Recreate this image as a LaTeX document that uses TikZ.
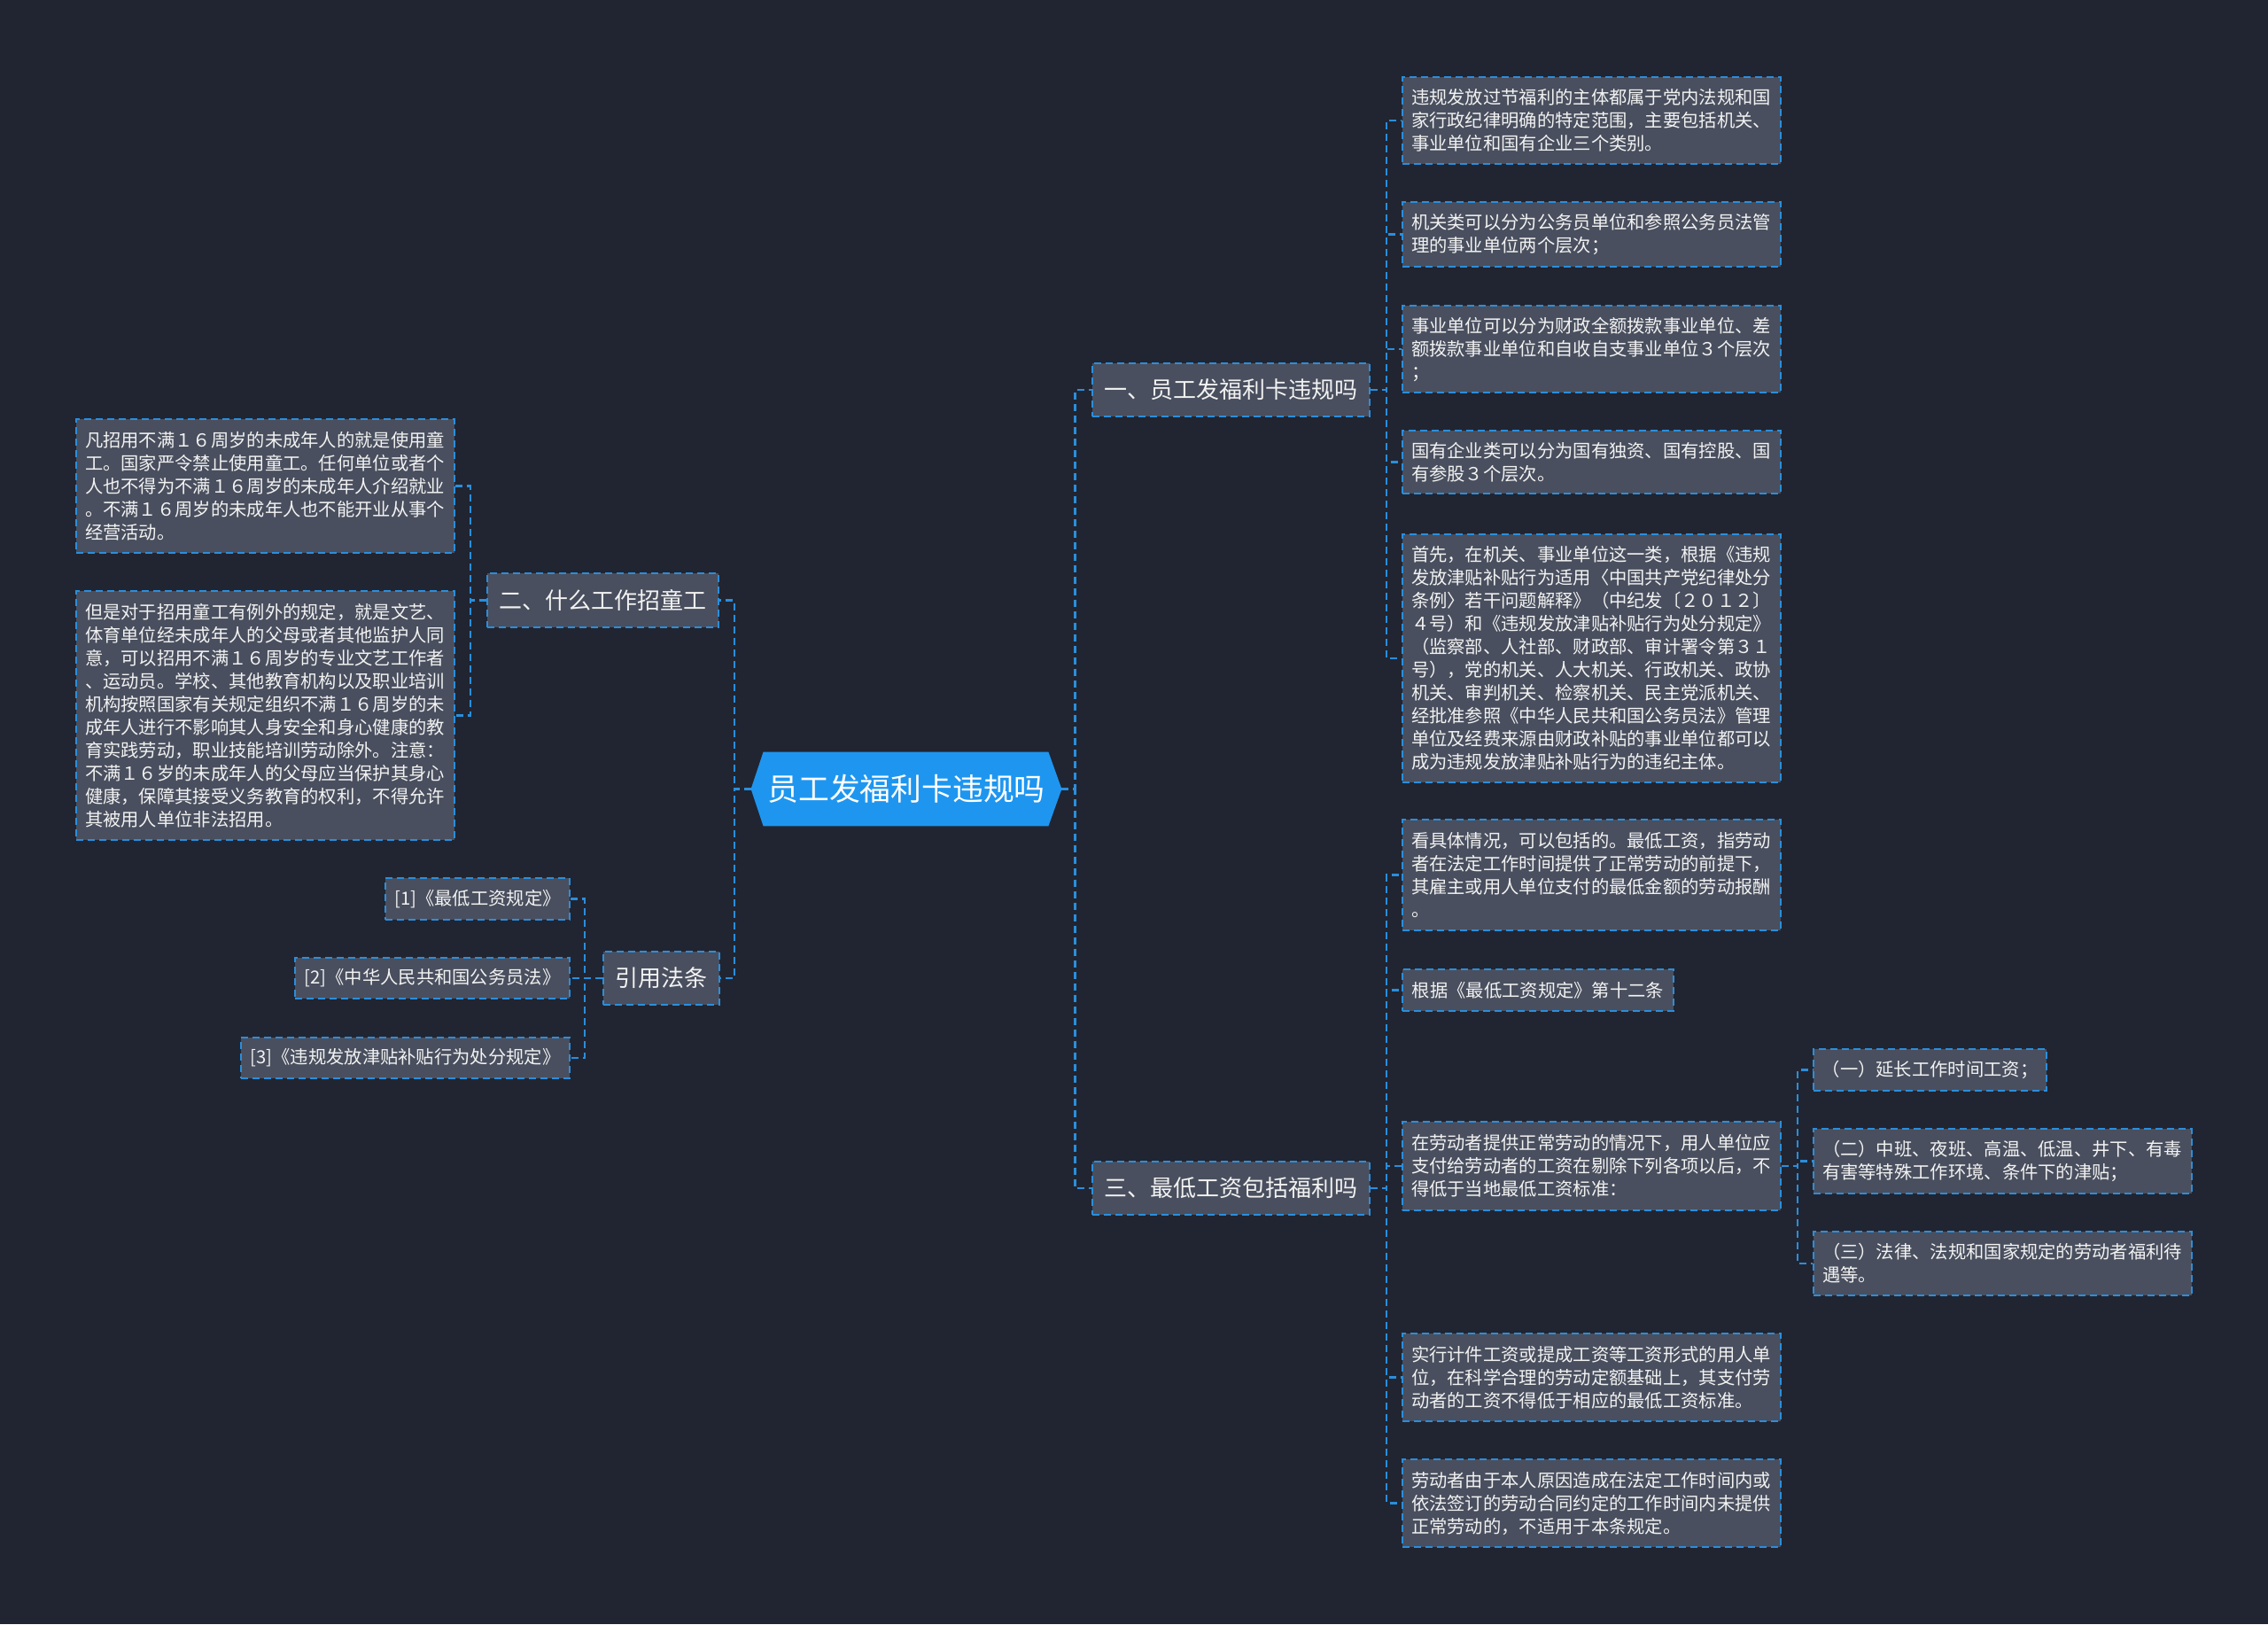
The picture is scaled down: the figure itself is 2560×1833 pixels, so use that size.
\documentclass[tikz,border=0pt]{standalone}
\usepackage{fontspec}
\newfontfamily\cjk{Noto Sans CJK SC}
\usetikzlibrary{backgrounds}
\definecolor{bgc}{RGB}{33,37,49}
\definecolor{boxc}{RGB}{73,79,94}
\definecolor{linec}{RGB}{42,142,220}
\definecolor{rootc}{RGB}{30,150,240}
\definecolor{txtc}{RGB}{242,242,242}
\tikzset{
  bxat/.style n args={4}{at={({(#1+#3)/2},{(#2+#4)/2})}, anchor=center,
    minimum width={(#3-#1)*0.5pt}, minimum height={(#4-#2)*0.5pt}},
  box/.style={rectangle, fill=boxc, draw=linec, dash pattern=on 4pt off 2.5pt, line width=1.1pt,
    inner sep=0pt, text=txtc, font=\cjk\fontsize{10.15}{13}\selectfont, align=left},
  leaf/.style={box, text width=203.5pt},
  shortleaf/.style={box},
  branch/.style={box, font=\cjk\fontsize{13}{16}\selectfont, align=center},
  rootbox/.style={rectangle, inner sep=0pt, text=white, font=\cjk\fontsize{17.4}{20}\selectfont},
  conn/.style={draw=linec, dash pattern=on 4pt off 2.5pt, line width=1.1pt}
}
\begin{document}
\begin{tikzpicture}[x=0.5pt,y=-0.5pt]
\useasboundingbox (0,0) rectangle (2560,1833);

% root
\node[rootbox, bxat={848}{849}{1198}{932}] (root) {员工发福利卡违规吗};

% level 1
\node[branch, bxat={1233}{410}{1546}{470}] (b1) {一、员工发福利卡违规吗};
\node[branch, bxat={1233}{1311}{1546}{1371}] (b3) {三、最低工资包括福利吗};
\node[branch, bxat={550}{647}{811}{708}] (b2) {二、什么工作招童工};
\node[branch, bxat={681}{1074}{812}{1134}] (b4) {引用法条};

% leaves of b1
\node[leaf, bxat={1583}{87}{2010}{185}] (l1) {违规发放过节福利的主体都属于党内法规和国\\家行政纪律明确的特定范围，主要包括机关、\\事业单位和国有企业三个类别。};
\node[leaf, bxat={1583}{228}{2010}{301}] (l2) {机关类可以分为公务员单位和参照公务员法管\\理的事业单位两个层次；};
\node[leaf, bxat={1583}{345}{2010}{443}] (l3) {事业单位可以分为财政全额拨款事业单位、差\\额拨款事业单位和自收自支事业单位３个层次\\；};
\node[leaf, bxat={1583}{486}{2010}{557}] (l4) {国有企业类可以分为国有独资、国有控股、国\\有参股３个层次。};
\node[leaf, bxat={1583}{603}{2010}{883}] (l5) {首先，在机关、事业单位这一类，根据《违规\\发放津贴补贴行为适用〈中国共产党纪律处分\\条例〉若干问题解释》（中纪发〔２０１２〕\\４号）和《违规发放津贴补贴行为处分规定》\\（监察部、人社部、财政部、审计署令第３１\\号），党的机关、人大机关、行政机关、政协\\机关、审判机关、检察机关、民主党派机关、\\经批准参照《中华人民共和国公务员法》管理\\单位及经费来源由财政补贴的事业单位都可以\\成为违规发放津贴补贴行为的违纪主体。};

% leaves of b3
\node[leaf, bxat={1583}{925}{2010}{1050}] (m1) {看具体情况，可以包括的。最低工资，指劳动\\者在法定工作时间提供了正常劳动的前提下，\\其雇主或用人单位支付的最低金额的劳动报酬\\。};
\node[shortleaf, bxat={1583}{1094}{1889}{1141}] (m2) {根据《最低工资规定》第十二条};
\node[leaf, bxat={1583}{1266}{2010}{1366}] (m3) {在劳动者提供正常劳动的情况下，用人单位应\\支付给劳动者的工资在剔除下列各项以后，不\\得低于当地最低工资标准：};
\node[leaf, bxat={1583}{1505}{2010}{1604}] (m4) {实行计件工资或提成工资等工资形式的用人单\\位，在科学合理的劳动定额基础上，其支付劳\\动者的工资不得低于相应的最低工资标准。};
\node[leaf, bxat={1583}{1647}{2010}{1746}] (m5) {劳动者由于本人原因造成在法定工作时间内或\\依法签订的劳动合同约定的工作时间内未提供\\正常劳动的，不适用于本条规定。};

% leaves of m3
\node[shortleaf, bxat={2047}{1184}{2310}{1231}] (s1) {（一）延长工作时间工资；};
\node[leaf, bxat={2047}{1274}{2474}{1347}] (s2) {（二）中班、夜班、高温、低温、井下、有毒\\有害等特殊工作环境、条件下的津贴；};
\node[leaf, bxat={2047}{1390}{2474}{1462}] (s3) {（三）法律、法规和国家规定的劳动者福利待\\遇等。};

% leaves of b2
\node[leaf, bxat={86}{473}{513}{624}] (c1) {凡招用不满１６周岁的未成年人的就是使用童\\工。国家严令禁止使用童工。任何单位或者个\\人也不得为不满１６周岁的未成年人介绍就业\\。不满１６周岁的未成年人也不能开业从事个\\经营活动。};
\node[leaf, bxat={86}{667}{513}{948}] (c2) {但是对于招用童工有例外的规定，就是文艺、\\体育单位经未成年人的父母或者其他监护人同\\意，可以招用不满１６周岁的专业文艺工作者\\、运动员。学校、其他教育机构以及职业培训\\机构按照国家有关规定组织不满１６周岁的未\\成年人进行不影响其人身安全和身心健康的教\\育实践劳动，职业技能培训劳动除外。注意：\\不满１６岁的未成年人的父母应当保护其身心\\健康，保障其接受义务教育的权利，不得允许\\其被用人单位非法招用。};

% leaves of b4
\node[shortleaf, bxat={435}{991}{643}{1038}] (r1) {[1]《最低工资规定》};
\node[shortleaf, bxat={333}{1081}{643}{1127}] (r2) {[2]《中华人民共和国公务员法》};
\node[shortleaf, bxat={272}{1171}{643}{1217}] (r3) {[3]《违规发放津贴补贴行为处分规定》};

% connectors
\foreach \c in {b1,b3} \draw[conn] (root.east) -- ++(15,0) |- (\c.west);
\foreach \c in {b2,b4} \draw[conn] (root.west) -- ++(-19,0) |- (\c.east);
\foreach \c in {l1,l2,l3,l4,l5} \draw[conn] (b1.east) -- ++(18,0) |- (\c.west);
\foreach \c in {m1,m2,m3,m4,m5} \draw[conn] (b3.east) -- ++(18,0) |- (\c.west);
\foreach \c in {s1,s2,s3} \draw[conn] (m3.east) -- ++(18,0) |- (\c.west);
\foreach \c in {c1,c2} \draw[conn] (b2.west) -- ++(-18,0) |- (\c.east);
\foreach \c in {r1,r2,r3} \draw[conn] (b4.west) -- ++(-20,0) |- (\c.east);

\begin{pgfonlayer}{background}
\fill[bgc] (0,0) rectangle (2560,1833);
\fill[rootc] (root.west) -- ([xshift=7pt]root.north west) -- ([xshift=-7.5pt]root.north east)
  -- (root.east) -- ([xshift=-7.5pt]root.south east) -- ([xshift=7pt]root.south west) -- cycle;
\end{pgfonlayer}
\end{tikzpicture}
\end{document}
